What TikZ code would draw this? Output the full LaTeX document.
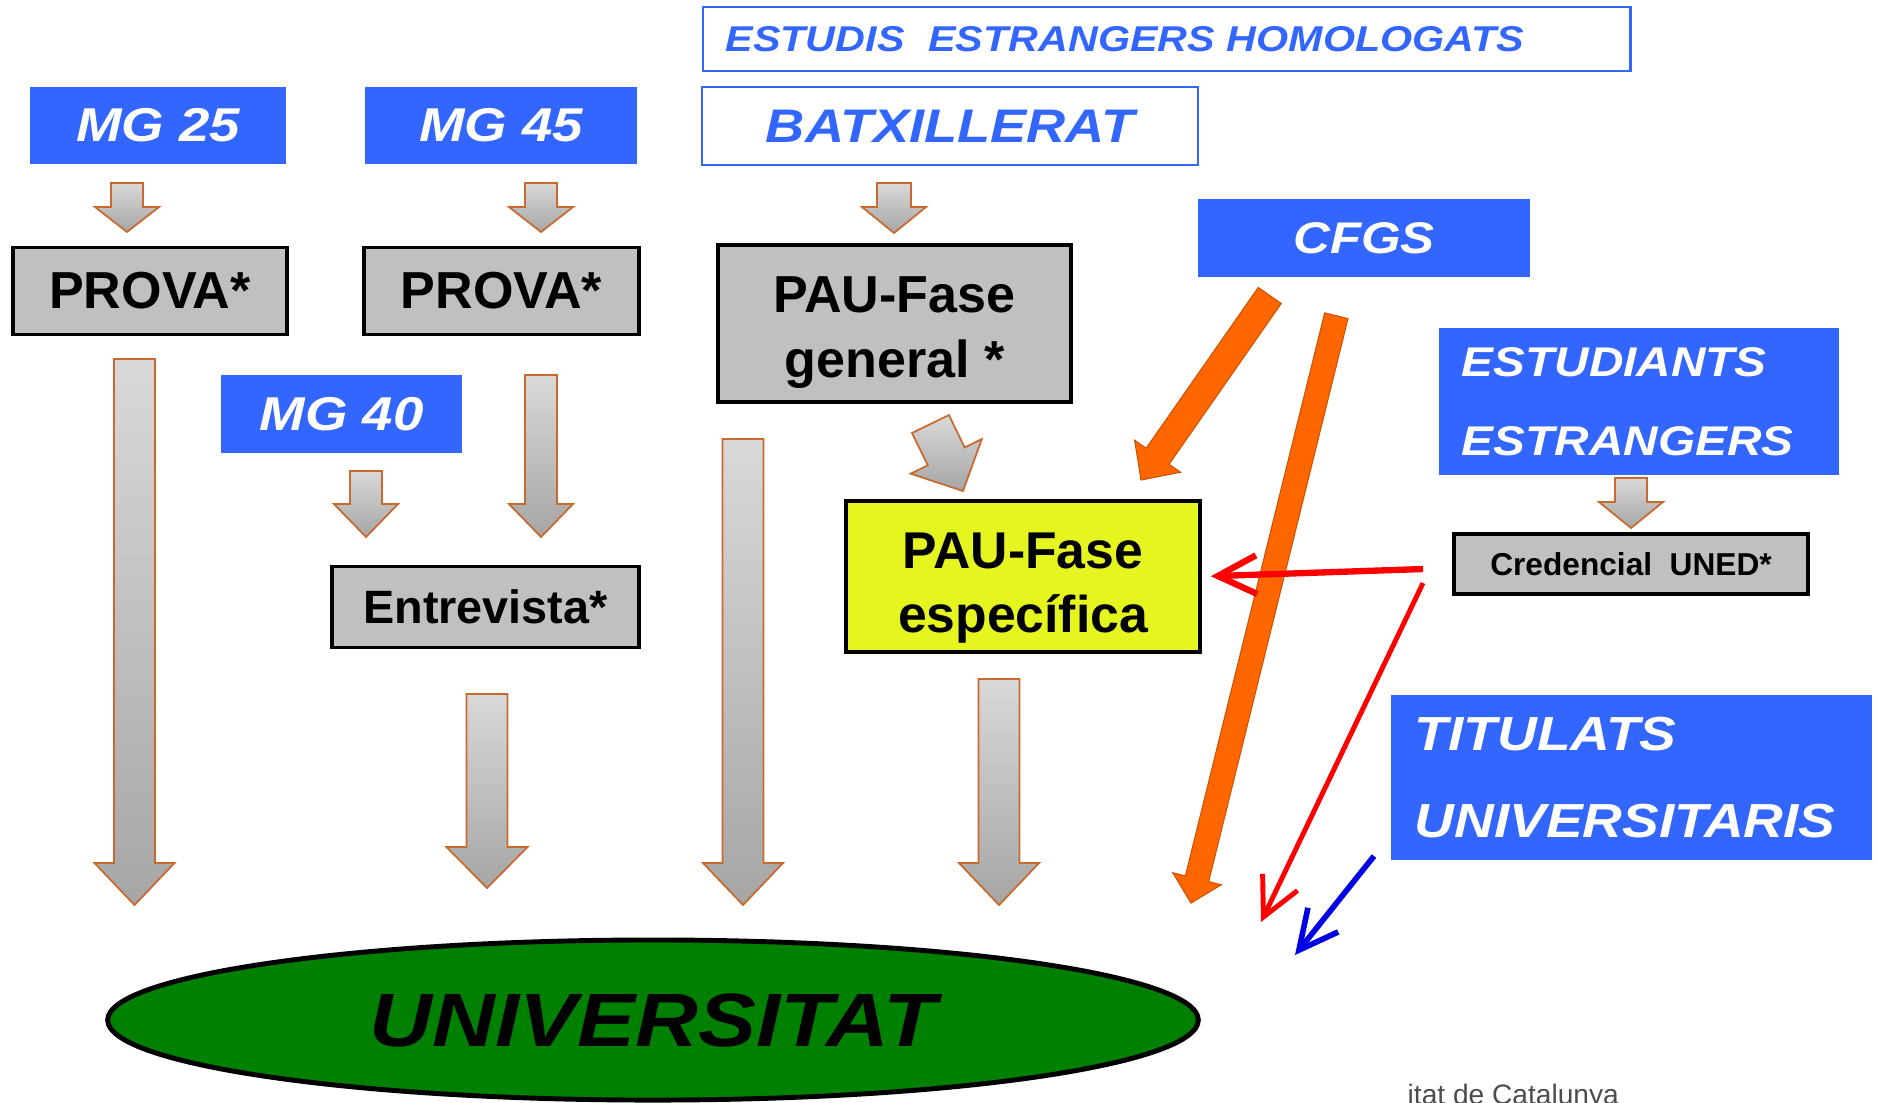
\documentclass[tikz,border=0pt]{standalone}
\usepackage{fontspec}
\setmainfont{Liberation Sans}
\newfontfamily\widesans{Liberation Sans}[FakeStretch=1.15]
\usetikzlibrary{arrows.meta,positioning,shapes.geometric}

\definecolor{boxblue}{RGB}{51,102,255}
\definecolor{boxgray}{RGB}{192,192,192}
\definecolor{unigreen}{RGB}{0,128,0}
\definecolor{pauyellow}{RGB}{228,245,32}
\definecolor{cfgsorange}{RGB}{255,102,0}
\definecolor{arrowedge}{RGB}{200,105,45}

\newcommand{\fatarrow}[7]{%
	\begin{scope}[shift={#2}, rotate=#3]
		\draw[#1] (-#6,-#4) -- (#6,-#4) -- (#6,-#5) -- (#7,-#5) -- (0,0) -- (-#7,-#5) -- (-#6,-#5) -- cycle;
	\end{scope}}

\begin{document}
\begin{tikzpicture}[x=0.01cm,y=-0.01cm,
		bluebox/.style 2 args={fill=boxblue, text=white, inner sep=0pt, font=\widesans\bfseries\itshape\fontsize{#1}{#2}\selectfont},
		linebox/.style 2 args={draw=boxblue, line width=0.7pt, fill=white, text=boxblue, inner sep=0pt, font=\widesans\bfseries\itshape\fontsize{#1}{#2}\selectfont},
		greybox/.style 2 args={draw=black, line width=1.1pt, fill=boxgray, inner sep=0pt, font=\bfseries\fontsize{#1}{#2}\selectfont},
		greyarrow/.style={draw=arrowedge, line width=0.5pt, top color=gray!30, bottom color=gray!70},
		orangearrow/.style={draw=cfgsorange!80!black, line width=0.3pt, fill=cfgsorange},
		thinarrow/.style={line width=1.4pt, -{Straight Barb[length=11pt,width=11pt]}}]
	\useasboundingbox (0,0) rectangle (1877,1102);

	\node (homol) at (1166.5,39) [linebox={10.2}{12}, minimum width=9.27cm, minimum height=0.64cm, text width=8.81cm, align=left] {ESTUDIS\ \ ESTRANGERS HOMOLOGATS};
	\node (batx) at (950,126) [linebox={13.4}{16}, minimum width=4.96cm, minimum height=0.78cm] {BATXILLERAT};
	\node (mg25) at (158,125.5) [bluebox={13.5}{16}, minimum width=2.56cm, minimum height=0.77cm] {MG 25};
	\node (mg45) at (501,125.5) [bluebox={13.5}{16}, minimum width=2.72cm, minimum height=0.77cm] {MG 45};
	\node (cfgs) at (1364,238) [bluebox={12.6}{15}, minimum width=3.32cm, minimum height=0.78cm] {CFGS};
	\node (prova1) at (150,291) [greybox={14.8}{18}, minimum width=2.74cm, minimum height=0.87cm] {PROVA*};
	\node (prova2) at (501.5,291) [greybox={14.8}{18}, minimum width=2.75cm, minimum height=0.87cm] {PROVA*};
	\node (paugen) at (894.5,323.5) [greybox={14.8}{18.5}, minimum width=3.53cm, minimum height=1.57cm, align=center] {\rule{0pt}{15.4pt}PAU-Fase\\general *};
	\node (mg40) at (341.5,414) [bluebox={13.5}{16}, minimum width=2.41cm, minimum height=0.78cm] {MG 40};
	\node (estud) at (1639,401.5) [bluebox={11.8}{22.5}, minimum width=4cm, minimum height=1.47cm, text width=3.54cm, align=left] {ESTUDIANTS\\ESTRANGERS};
	\node (cred) at (1631,564) [greybox={9}{11}, minimum width=3.54cm, minimum height=0.6cm] {Credencial\ \ UNED*};
	\node (pauesp) at (1023,576.5) [greybox={14.7}{18.2}, fill=pauyellow, minimum width=3.54cm, minimum height=1.51cm, align=center] {\rule{0pt}{16.5pt}PAU-Fase\\específica};
	\node (entrev) at (485.5,607) [greybox={13.3}{16}, minimum width=3.07cm, minimum height=0.81cm] {Entrevista*};
	\node (titul) at (1631.5,777.5) [bluebox={13.6}{25}, minimum width=4.81cm, minimum height=1.65cm, text width=4.33cm, align=left] {TITULATS\\UNIVERSITARIS};
	\node (univ) at (653,1020) [ellipse, draw=black, line width=1.4pt, fill=unigreen, inner sep=0pt, minimum width=10.9cm, minimum height=1.6cm, font=\widesans\bfseries\itshape\fontsize{21.5}{24}\selectfont] {UNIVERSITAT};
	\node (foot) at (1407,1104) [anchor=base west, text=black!70, inner sep=0pt, font=\fontsize{8}{9}\selectfont] {itat de Catalunya};

	\fatarrow{greyarrow}{(127,232)}{0}{49}{25}{16}{32}
	\fatarrow{greyarrow}{(541,232)}{0}{49}{25}{16}{32}
	\fatarrow{greyarrow}{(894,233)}{0}{50}{26}{17}{32}
	\fatarrow{greyarrow}{(134.5,905)}{0}{546}{42}{20.5}{40}
	\fatarrow{greyarrow}{(366,537)}{0}{66}{33}{16}{32}
	\fatarrow{greyarrow}{(541,537)}{0}{162}{33}{16}{32}
	\fatarrow{greyarrow}{(487,888)}{0}{194}{41}{20.5}{40.5}
	\fatarrow{greyarrow}{(743,905)}{0}{466}{42}{20.5}{40}
	\fatarrow{greyarrow}{(999,905)}{0}{226}{42}{20.5}{40}
	\fatarrow{greyarrow}{(963,491)}{25.9}{74.5}{38.5}{20.5}{39.6}
	\fatarrow{greyarrow}{(1631,528)}{0}{50}{26}{16}{32}

	\fatarrow{orangearrow}{(1141,480)}{-34.9}{225}{29}{14}{28}
	\fatarrow{orangearrow}{(1191,903)}{-13.9}{605}{25}{12}{25}

	\coordinate (redstart1) at (1423,569);
	\coordinate (redstart2) at (1423,583);
	\coordinate (redend) at (1261,922);
	\coordinate (bluestart) at (1374,856);
	\coordinate (blueend) at (1295,955);
	\draw [thinarrow, red, line width=1.8pt, shorten >=2.5pt] (redstart1) -- (pauesp.east);
	\draw [thinarrow, red] (redstart2) -- (redend);
	\draw [thinarrow, blue!90!black, line width=1.6pt] (bluestart) -- (blueend);
\end{tikzpicture}
\end{document}
